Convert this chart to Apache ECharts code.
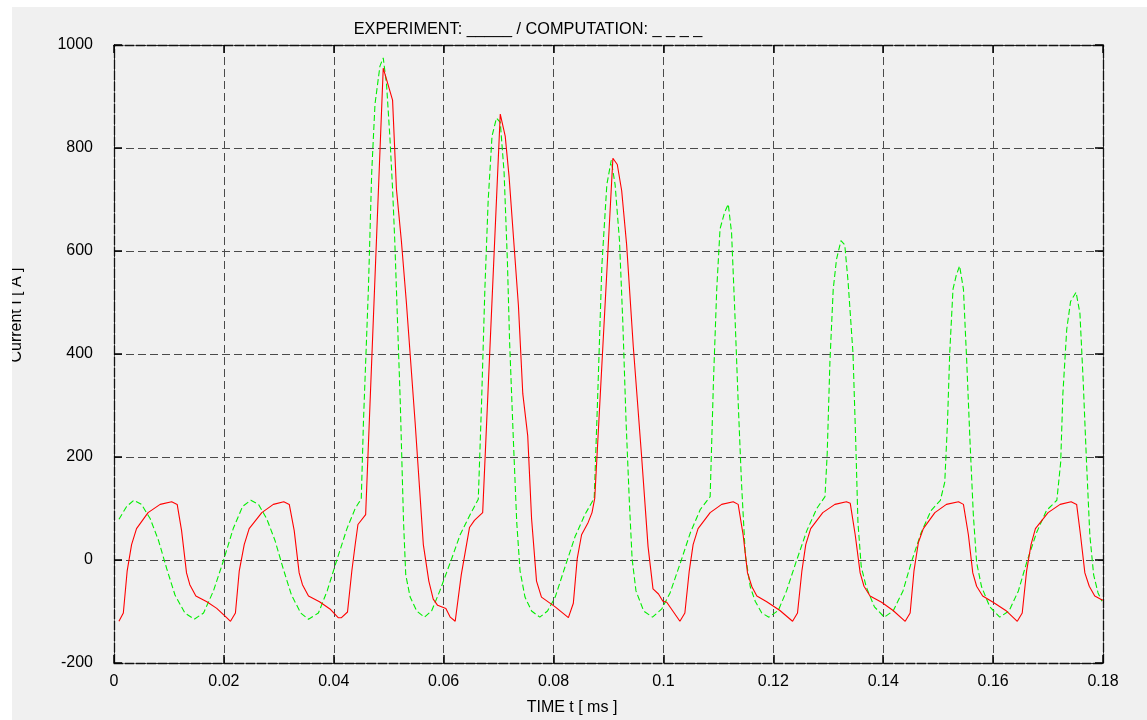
<!DOCTYPE html>
<html>
<head>
<meta charset="utf-8">
<script src="https://cdn.jsdelivr.net/npm/echarts@6/dist/echarts.min.js"></script>
<style>
html,body{margin:0;padding:0;background:#ffffff;width:1147px;height:720px;overflow:hidden;}
#chart{position:absolute;left:12px;top:7px;width:1135px;height:713px;background:#f0f0f0;}
</style>
</head>
<body>
<div id="chart"></div>
<script>
// ---- tick labels ----
const xTicks = [0, 0.02, 0.04, 0.06, 0.08, 0.1, 0.12, 0.14, 0.16, 0.18];
const xTickLabels = ['0', '0.02', '0.04', '0.06', '0.08', '0.1', '0.12', '0.14', '0.16', '0.18'];
const yTicks = [-200, 0, 200, 400, 600, 800, 1000];
const yTickLabels = ['-200', '0', '200', '400', '600', '800', '1000'];

// ---- texts ----
const titleText = 'EXPERIMENT: _____ / COMPUTATION: _ _ _ _';
const xName = 'TIME t [ ms ]';
const yName = 'Current I [ A ]';

// ---- experiment (red, solid) ----
const expTime = [
  0.0009,0.0017,0.0024,0.0032,0.0041,0.0062,0.0084,0.0105,0.0115,0.0123,0.0132,0.0138,0.0149,0.0169,0.0187,0.0205,0.0212,0.0221,
  0.0228,0.0237,0.0246,0.0269,0.0290,0.0309,0.0319,0.0328,0.0337,0.0343,0.0354,0.0374,0.0393,0.0408,0.0414,0.0425,
  0.0433,0.0439,0.0444,0.0458,0.0490,0.0507,0.0514,0.0523,0.0532,0.0548,0.0563,0.0573,0.0581,0.0589,0.0604,0.0612,0.0621,
  0.0632,0.0647,0.0656,0.0671,0.0703,0.0712,0.0719,0.0736,0.0744,0.0753,0.0760,0.0769,0.0778,0.0803,0.0827,0.0836,
  0.0843,0.0851,0.0863,0.0870,0.0875,0.0908,0.0916,0.0924,0.0933,0.0945,0.0960,0.0972,0.0981,0.0991,0.0999,0.1006,0.1030,0.1039,
  0.1047,0.1054,0.1063,0.1085,0.1106,0.1127,0.1136,0.1145,0.1153,0.1161,0.1170,0.1188,0.1212,0.1235,0.1244,
  0.1252,0.1259,0.1268,0.1290,0.1312,0.1333,0.1340,0.1349,0.1358,0.1365,0.1376,0.1397,0.1418,0.1440,0.1449,
  0.1456,0.1464,0.1473,0.1494,0.1515,0.1537,0.1546,0.1555,0.1563,0.1570,0.1581,0.1600,0.1623,0.1644,0.1653,
  0.1661,0.1669,0.1677,0.1700,0.1722,0.1742,0.1752,0.1759,0.1767,0.1775,0.1785,0.1796,0.1800
];
const expCurrent = [
  -119,-103,-21,30,61,92,108,113,108,57,-25,-48,-70,-81,-94,-112,-119,-103,
  -21,30,61,92,108,113,108,57,-25,-48,-70,-81,-95,-112,-112,-101,
  -20,30,69,88,955,893,721,620,502,268,30,-41,-76,-88,-94,-111,-119,
  -29,63,77,92,866,823,745,495,323,241,80,-41,-72,-91,-112,-84,
  2,49,73,92,120,780,768,717,612,416,205,26,-56,-66,-80,-82,-119,-103,
  -21,30,61,92,108,113,108,49,-25,-52,-70,-81,-98,-119,-103,
  -21,30,61,92,108,113,110,49,-25,-51,-70,-82,-98,-119,-103,
  -21,34,61,92,108,113,108,49,-25,-51,-70,-82,-98,-119,-103,
  -21,30,61,92,108,113,108,49,-25,-51,-70,-76,-78
];

// ---- computation (green, dashed) ----
const compTime = [
  0.0009,0.0023,0.0036,0.0050,0.0066,0.0081,0.0096,0.0111,0.0129,0.0146,0.0163,0.0181,0.0199,0.0217,0.0234,0.0249,0.0263,0.0278,0.0293,0.0308,0.0323,0.0340,0.0354,0.0372,0.0388,0.0405,0.0424,0.0439,0.0446,0.0450,
  0.0454,0.0463,0.0469,0.0475,0.0484,0.0490,0.0496,0.0502,0.0507,0.0511,0.0516,0.0521,0.0527,0.0531,0.0539,0.0551,0.0565,0.0578,0.0593,0.0612,0.0630,0.0648,0.0663,
  0.0669,0.0675,0.0681,0.0688,0.0696,0.0703,0.0710,0.0716,0.0720,0.0727,0.0733,0.0739,0.0748,0.0760,0.0775,0.0789,0.0803,0.0821,0.0839,0.0857,0.0874,
  0.0880,0.0888,0.0897,0.0905,0.0912,0.0920,0.0926,0.0932,0.0938,0.0943,0.0950,0.0964,0.0980,0.0997,0.1012,0.1031,0.1049,0.1067,0.1085,
  0.1091,0.1097,0.1103,0.1111,0.1118,0.1124,0.1130,0.1136,0.1142,0.1149,0.1158,0.1167,0.1179,0.1192,0.1209,0.1224,0.1241,0.1261,0.1279,0.1294,
  0.1298,0.1303,0.1309,0.1315,0.1323,0.1330,0.1336,0.1345,0.1350,0.1354,0.1360,0.1369,0.1384,0.1402,0.1418,0.1436,0.1451,0.1469,0.1487,0.1504,
  0.1512,0.1517,0.1521,0.1527,0.1533,0.1539,0.1546,0.1552,0.1558,0.1564,0.1570,0.1579,0.1594,0.1612,0.1629,0.1646,0.1661,0.1679,0.1697,0.1716,
  0.1723,0.1727,0.1734,0.1741,0.1751,0.1758,0.1764,0.1770,0.1776,0.1783,0.1791,0.1798
];
const compCurrent = [
  79,104,116,108,80,38,-17,-68,-103,-115,-103,-60,-2,61,104,116,108,80,38,-17,-68,-103,-115,-103,-60,-2,61,100,112,118,
  268,526,752,885,959,975,924,823,721,620,463,307,73,-29,-72,-99,-111,-99,-60,-5,49,88,118,
  307,526,698,823,858,850,752,580,424,229,73,-21,-72,-99,-111,-99,-72,-13,45,88,120,
  307,573,729,776,729,620,463,268,112,2,-60,-99,-111,-95,-64,-5,53,98,123,
  346,526,643,674,691,635,479,307,151,10,-52,-80,-103,-111,-98,-60,-5,57,100,123,
  205,385,526,584,620,612,541,401,229,73,-13,-52,-91,-111,-99,-60,-5,53,96,116,
  151,268,401,526,553,571,526,385,229,88,-5,-52,-91,-111,-99,-60,-5,53,96,116,
  190,323,448,502,520,479,346,190,49,-29,-64,-80
];

const zip = (a, b) => a.map((t, i) => [t, b[i]]);

const FONT = '"Liberation Sans", Arial, Helvetica, sans-serif';
const gridDash = { color: '#4a4a4a', width: 1, type: [8, 4] };
const frameLine = { show: true, onZero: false, lineStyle: { color: '#111', width: 1.3, type: [9, 2] } };
const tick = { show: true, inside: true, length: 8, lineStyle: { color: '#000', width: 1.5 } };

const chart = echarts.init(document.getElementById('chart'), null, { renderer: 'canvas' });
chart.setOption({
  animation: false,
  backgroundColor: '#f0f0f0',
  grid: { left: 102, top: 38, width: 989, height: 618, containLabel: false },
  xAxis: [
    {
      type: 'value', position: 'bottom', min: 0, max: 0.18, interval: 0.02,
      axisLine: frameLine, axisTick: tick,
      splitLine: { show: true, lineStyle: gridDash },
      axisLabel: {
        margin: 11, color: '#000', fontSize: 16, fontFamily: FONT,
        formatter: v => { const i = xTicks.findIndex(t => Math.abs(t - v) < 1e-9); return i >= 0 ? xTickLabels[i] : ''; }
      }
    },
    {
      type: 'value', position: 'top', min: 0, max: 0.18, interval: 0.02,
      axisLine: frameLine, axisTick: tick, splitLine: { show: false }, axisLabel: { show: false }
    }
  ],
  yAxis: [
    {
      type: 'value', position: 'left', min: -200, max: 1000, interval: 200,
      axisLine: frameLine, axisTick: tick,
      splitLine: { show: true, lineStyle: gridDash },
      axisLabel: {
        margin: 21, color: '#000', fontSize: 16, fontFamily: FONT,
        formatter: v => { const i = yTicks.indexOf(v); return i >= 0 ? yTickLabels[i] : ''; }
      }
    },
    {
      type: 'value', position: 'right', min: -200, max: 1000, interval: 200,
      axisLine: frameLine, axisTick: tick, splitLine: { show: false }, axisLabel: { show: false }
    }
  ],
  series: [
    {
      name: 'COMPUTATION', type: 'line', data: zip(compTime, compCurrent),
      showSymbol: false, symbol: 'none', smooth: false, z: 3,
      lineStyle: { color: '#00ee00', width: 1.1, type: [6, 3] }
    },
    {
      name: 'EXPERIMENT', type: 'line', data: zip(expTime, expCurrent),
      showSymbol: false, symbol: 'none', smooth: false, z: 4,
      lineStyle: { color: '#ff0000', width: 1.1 }
    }
  ],
  graphic: [
    { type: 'text', x: 516, y: 23, style: { text: titleText, fill: '#000', font: '16.3px ' + FONT, textAlign: 'center', textVerticalAlign: 'middle' } },
    { type: 'text', x: 560, y: 701, style: { text: xName, fill: '#000', font: '16px ' + FONT, textAlign: 'center', textVerticalAlign: 'middle' } },
    { type: 'text', x: 5, y: 308, rotation: Math.PI / 2, style: { text: yName, fill: '#000', font: '16px ' + FONT, textAlign: 'center', textVerticalAlign: 'middle' } }
  ]
});
</script>
</body>
</html>
